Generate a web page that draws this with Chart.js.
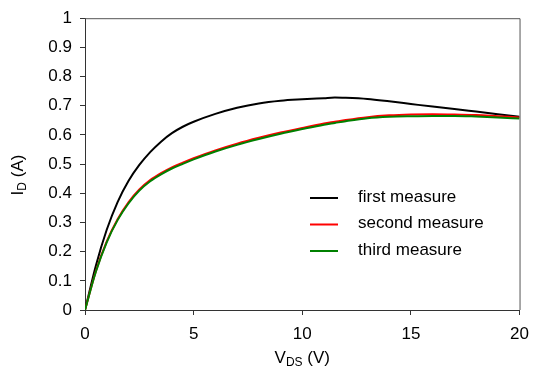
<!DOCTYPE html>
<html>
<head>
<meta charset="utf-8">
<script src="https://cdn.jsdelivr.net/npm/chart.js@4/dist/chart.umd.min.js"></script>
<style>
  html, body { margin: 0; padding: 0; background: #fff; }
  #wrap { width: 538px; height: 370px; }
</style>
</head>
<body>
<div id="wrap"><canvas id="c" width="538" height="370"></canvas></div>
<script>
// Drain voltage sweep (V)
const vds = [0, 0.5, 1, 1.5, 2, 2.5, 3, 3.5, 4, 4.5, 5, 6, 7, 8, 9, 10, 11, 11.5, 12, 13, 14, 15, 16, 17, 18, 19, 20];

// Drain current (A) for each measurement run
const firstMeasure  = [0, 0.152, 0.275, 0.37, 0.442, 0.497, 0.541, 0.577, 0.606, 0.628, 0.645, 0.672, 0.693, 0.708, 0.717, 0.722, 0.726, 0.728, 0.727, 0.723, 0.715, 0.706, 0.697, 0.689, 0.680, 0.671, 0.662];
const secondMeasure = [0, 0.133, 0.235, 0.311, 0.369, 0.413, 0.445, 0.469, 0.489, 0.505, 0.520, 0.547, 0.570, 0.590, 0.608, 0.624, 0.639, 0.645, 0.651, 0.661, 0.667, 0.670, 0.671, 0.670, 0.668, 0.664, 0.660];
const thirdMeasure  = [0, 0.131, 0.232, 0.308, 0.365, 0.409, 0.441, 0.465, 0.485, 0.501, 0.516, 0.543, 0.566, 0.586, 0.604, 0.620, 0.635, 0.641, 0.647, 0.657, 0.662, 0.664, 0.665, 0.665, 0.663, 0.660, 0.656];

const seriesLabels = ['first measure', 'second measure', 'third measure'];
const xTicks = [0, 5, 10, 15, 20];

const FONT = '"Liberation Sans", Arial, sans-serif';
const AXIS_COLOR = '#333';

function toPoints(ys) {
  return vds.map((v, i) => ({ x: v, y: ys[i] }));
}

function makeSet(label, ys, color, order) {
  return {
    label: label,
    data: toPoints(ys),
    borderColor: color,
    backgroundColor: color,
    borderWidth: 2,
    pointRadius: 0,
    showLine: true,
    fill: false,
    cubicInterpolationMode: 'monotone',
    order: order
  };
}

// Frame, axis titles with subscripts and the in-plot legend
const decorations = {
  id: 'decorations',
  afterDraw(chart) {
    const ctx = chart.ctx;
    const a = chart.chartArea;
    ctx.save();

    // top and right frame lines
    ctx.strokeStyle = '#555';
    ctx.lineWidth = 1;
    ctx.beginPath();
    ctx.moveTo(a.left, a.top + 0.5);
    ctx.lineTo(a.right + 0.5, a.top + 0.5);
    ctx.lineTo(a.right + 0.5, a.bottom);
    ctx.stroke();

    ctx.fillStyle = '#000';
    ctx.textBaseline = 'alphabetic';

    // x-axis title: V_DS (V)
    const xParts = [['V', 17, 0], ['DS', 12, 3], [' (V)', 17, 0]];
    drawParts(ctx, xParts, (a.left + a.right) / 2, 363);

    // y-axis title: I_D (A), rotated
    ctx.save();
    ctx.translate(23, 175);
    ctx.rotate(-Math.PI / 2);
    const yParts = [['I', 17, 0], ['D', 12, 3], [' (A)', 17, 0]];
    drawParts(ctx, yParts, 0, 0);
    ctx.restore();

    // legend
    const sets = chart.data.datasets;
    const lx0 = 310, lx1 = 338, tx = 358, ly0 = 197, step = 26.5;
    ctx.font = '17px ' + FONT;
    ctx.textAlign = 'left';
    ctx.textBaseline = 'middle';
    sets.forEach((ds, i) => {
      const y = ly0 + i * step;
      ctx.strokeStyle = ds.borderColor;
      ctx.lineWidth = 2;
      ctx.beginPath();
      ctx.moveTo(lx0, y + 1);
      ctx.lineTo(lx1, y + 1);
      ctx.stroke();
      ctx.fillStyle = '#000';
      ctx.fillText(ds.label, tx, y);
    });
    ctx.restore();
  }
};

function drawParts(ctx, parts, cx, baseY) {
  let total = 0;
  parts.forEach(p => { ctx.font = p[1] + 'px ' + FONT; total += ctx.measureText(p[0]).width; });
  let x = cx - total / 2;
  ctx.textAlign = 'left';
  parts.forEach(p => {
    ctx.font = p[1] + 'px ' + FONT;
    ctx.fillText(p[0], x, baseY + p[2]);
    x += ctx.measureText(p[0]).width;
  });
}

new Chart(document.getElementById('c'), {
  type: 'scatter',
  data: {
    datasets: [
      makeSet(seriesLabels[0], firstMeasure, '#000000', 3),
      makeSet(seriesLabels[1], secondMeasure, '#ff0000', 2),
      makeSet(seriesLabels[2], thirdMeasure, '#008000', 1)
    ]
  },
  options: {
    responsive: false,
    animation: false,
    layout: { padding: { left: 0, right: 11, top: 18, bottom: 0 } },
    plugins: {
      legend: { display: false },
      tooltip: { enabled: false }
    },
    scales: {
      x: {
        type: 'linear',
        min: 0,
        max: 20,
        afterFit(scale) { scale.height = 60; },
        afterBuildTicks(scale) { scale.ticks = xTicks.map(v => ({ value: v })); },
        grid: { display: true, drawOnChartArea: false, drawTicks: true, tickLength: 5, color: AXIS_COLOR },
        border: { display: true, color: AXIS_COLOR, width: 1 },
        ticks: { color: '#000', font: { family: FONT, size: 17 }, padding: 9, maxRotation: 0 }
      },
      y: {
        type: 'linear',
        min: 0,
        max: 1,
        afterFit(scale) { scale.width = 85; },
        grid: { display: true, drawOnChartArea: false, drawTicks: true, tickLength: 5, color: AXIS_COLOR },
        border: { display: true, color: AXIS_COLOR, width: 1 },
        ticks: {
          stepSize: 0.1,
          color: '#000',
          font: { family: FONT, size: 17 },
          padding: 8,
          callback: v => String(Number(v.toFixed(1)))
        }
      }
    }
  },
  plugins: [decorations]
});
</script>
</body>
</html>
